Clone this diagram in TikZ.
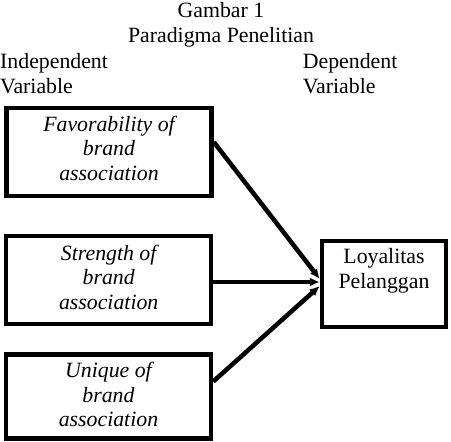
\documentclass[tikz,border=0pt]{standalone}
\usepackage{fontspec}
\setmainfont{Liberation Serif}
\newfontfamily\paperfont{Liberation Serif}
\usetikzlibrary{arrows.meta}
\usetikzlibrary{positioning, calc}

\begin{document}
\begin{tikzpicture}[
    x=1pt, y=-1pt,
    txt/.style={font=\paperfont\fontsize{21.8}{24.5}\selectfont, inner sep=0pt, align=center},
    box text/.style={txt, font=\paperfont\fontsize{21.8}{24.5}\selectfont\itshape},
    box/.style={draw, line width=4.5pt, minimum width=205pt, minimum height=88pt},
    dep box/.style={box, minimum width=124pt, minimum height=86pt},
    link/.style={line width=4.5pt, -{Latex[length=10pt, width=9pt]}}
]
    \useasboundingbox (0, 0) rectangle (451, 442);

    \node[txt] (title) at (221, 25) {Gambar 1\\Paradigma Penelitian};
    \node[txt, anchor=west, align=left] (indep) at (0, 73.6) {Independent\\Variable};
    \node[txt, anchor=west, align=left] (dep) at (302.7, 73.6) {Dependent\\Variable};

    % kotak variabel bebas
    \node[box] (fav) at (109, 152) {};
    \node[box text] (fav text) at ($(fav.center) + (0, -4)$) {Favorability of\\brand\\association};
    \node[box] (str) at (108.7, 280) {};
    \node[box text] (str text) at ($(str.center) + (0, -3)$) {Strength of\\brand\\association};
    \node[box, minimum height=84pt] (uni) at (108.5, 396.5) {};
    \node[box text] (uni text) at ($(uni.center) + (0, -2)$) {Unique of\\brand\\association};

    % kotak variabel terikat
    \node[dep box] (loyal) at (384, 284) {};
    \node[txt] (loyal text) at ($(loyal.center) + (0, -13)$) {Loyalitas\\Pelanggan};

    \coordinate (tip) at ([yshift=2pt]loyal.west);

    \draw[link] ([yshift=10pt]fav.east) -- ([yshift=3pt]tip);
    \draw[link] (str.east |- tip) -- (tip);
    \draw[link] ([yshift=15pt]uni.east) -- ([yshift=-4pt]tip);
\end{tikzpicture}
\end{document}
